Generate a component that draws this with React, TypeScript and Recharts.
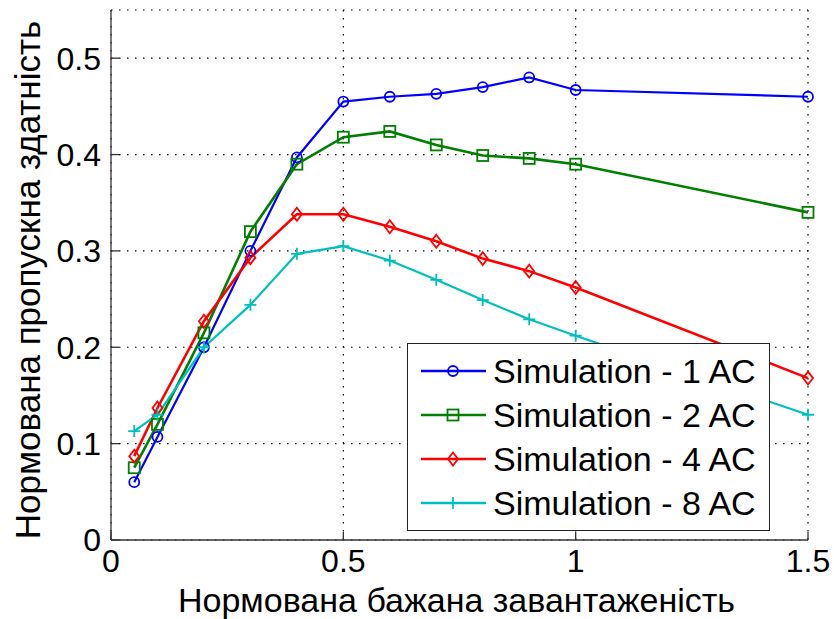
import { CartesianGrid, Legend, Line, LineChart, XAxis, YAxis } from "recharts"

const FONT = "'Liberation Sans', Arial, sans-serif"

// normalised offered load (x)
const loads = [0.05, 0.1, 0.2, 0.3, 0.4, 0.5, 0.6, 0.7, 0.8, 0.9, 1.0, 1.5]

// normalised throughput per number of ACs
const sim1 = [0.06, 0.107, 0.2, 0.3, 0.397, 0.455, 0.46, 0.463, 0.47, 0.48, 0.467, 0.46]
const sim2 = [0.075, 0.12, 0.215, 0.32, 0.39, 0.418, 0.424, 0.41, 0.399, 0.396, 0.39, 0.34]
const sim4 = [0.087, 0.137, 0.227, 0.293, 0.338, 0.338, 0.325, 0.31, 0.292, 0.279, 0.262, 0.168]
const sim8 = [0.113, 0.13, 0.2, 0.244, 0.297, 0.305, 0.29, 0.27, 0.249, 0.229, 0.212, 0.13]

const xTicks = [0, 0.5, 1, 1.5]
const yTicks = [0, 0.1, 0.2, 0.3, 0.4, 0.5]

const xLabel = "Нормована бажана завантаженість"
const yLabel = "Нормована пропускна здатність"

type Shape = "circle" | "square" | "diamond" | "plus"

const series: { key: string; name: string; color: string; shape: Shape; width: number }[] = [
  { key: "s1", name: "Simulation - 1 AC", color: "#0000ff", shape: "circle", width: 2.2 },
  { key: "s2", name: "Simulation - 2 AC", color: "#007f00", shape: "square", width: 2.6 },
  { key: "s4", name: "Simulation - 4 AC", color: "#ff0000", shape: "diamond", width: 2.6 },
  { key: "s8", name: "Simulation - 8 AC", color: "#00bfbf", shape: "plus", width: 2.2 },
]

const data = loads.map((x, i) => ({ x, s1: sim1[i], s2: sim2[i], s4: sim4[i], s8: sim8[i] }))

function Marker({ cx, cy, color, shape }: { cx: number; cy: number; color: string; shape: Shape }) {
  if (shape === "circle") {
    return <circle cx={cx} cy={cy} r={5} fill="none" stroke={color} strokeWidth={1.8} />
  }
  if (shape === "square") {
    return <rect x={cx - 5.5} y={cy - 5.5} width={11} height={11} fill="none" stroke={color} strokeWidth={1.8} />
  }
  if (shape === "diamond") {
    return (
      <path
        d={`M${cx},${cy - 6.5} L${cx + 5},${cy} L${cx},${cy + 6.5} L${cx - 5},${cy} Z`}
        fill="none"
        stroke={color}
        strokeWidth={1.8}
      />
    )
  }
  return <path d={`M${cx - 6},${cy} H${cx + 6} M${cx},${cy - 6} V${cy + 6}`} stroke={color} strokeWidth={1.8} />
}

function makeDot(color: string, shape: Shape) {
  return (props: any) => {
    const { cx, cy, index } = props
    if (cx == null || cy == null) return <g key={index} />
    return <Marker key={index} cx={cx} cy={cy} color={color} shape={shape} />
  }
}

function LegendBox() {
  return (
    <div
      style={{
        border: "1px solid #222",
        background: "#fff",
        boxSizing: "border-box",
        width: 363,
        padding: "5px 0",
        fontFamily: FONT,
        fontSize: 34,
        color: "#000",
      }}
    >
      {series.map((s) => (
        <div key={s.key} style={{ display: "flex", alignItems: "center", height: 44 }}>
          <svg width={85} height={20} style={{ flex: "none" }}>
            <line x1={13} x2={78} y1={10} y2={10} stroke={s.color} strokeWidth={2.5} />
            <Marker cx={45} cy={10} color={s.color} shape={s.shape} />
          </svg>
          <span style={{ whiteSpace: "nowrap", lineHeight: "44px" }}>{s.name}</span>
        </div>
      ))}
    </div>
  )
}

const tickStyle = { fill: "#000", fontSize: 32, fontFamily: FONT }
const frame = { stroke: "#333", strokeWidth: 1.3 }

export default function App() {
  return (
    <div style={{ position: "absolute", left: 0, top: 0, background: "#fff" }}>
      <LineChart width={834} height={619} data={data} margin={{ top: 10, right: 26, left: 0, bottom: 0 }}>
        <CartesianGrid stroke="#000" strokeDasharray="1.5 6.5" strokeWidth={1.2} />
        <XAxis
          dataKey="x"
          type="number"
          domain={[0, 1.5]}
          ticks={xTicks}
          height={79}
          axisLine={frame}
          tickLine={frame}
          tickSize={-8}
          tickMargin={17}
          tick={tickStyle}
          label={{
            content: (p: any) => {
              const vb = p.viewBox
              return (
                <text x={vb.x + vb.width / 2 - 3} y={612} textAnchor="middle" fontSize={34} fontFamily={FONT} fill="#000">
                  {xLabel}
                </text>
              )
            },
          }}
        />
        <XAxis
          xAxisId="top"
          orientation="top"
          dataKey="x"
          type="number"
          domain={[0, 1.5]}
          ticks={xTicks}
          height={0}
          axisLine={frame}
          tickLine={frame}
          tickSize={-8}
          tickFormatter={() => ""}
        />
        <YAxis
          type="number"
          domain={[0, 0.55]}
          ticks={yTicks}
          width={111}
          axisLine={frame}
          tickLine={frame}
          tickSize={-8}
          tickMargin={18}
          tick={tickStyle}
          label={{
            content: (p: any) => {
              const vb = p.viewBox
              const cx = 40
              const cy = vb.y + vb.height / 2 + 5
              return (
                <text
                  x={cx}
                  y={cy}
                  transform={`rotate(-90 ${cx} ${cy})`}
                  textAnchor="middle"
                  fontSize={35}
                  fontFamily={FONT}
                  fill="#000"
                >
                  {yLabel}
                </text>
              )
            },
          }}
        />
        <YAxis
          yAxisId="right"
          orientation="right"
          type="number"
          domain={[0, 0.55]}
          ticks={yTicks}
          width={0}
          axisLine={frame}
          tickLine={frame}
          tickSize={-8}
          tickFormatter={() => ""}
        />
        {series.map((s) => (
          <Line
            key={s.key}
            type="linear"
            dataKey={s.key}
            name={s.name}
            stroke={s.color}
            strokeWidth={s.width}
            dot={makeDot(s.color, s.shape)}
            activeDot={false}
            isAnimationActive={false}
          />
        ))}
        <Legend
          layout="vertical"
          align="center"
          verticalAlign="middle"
          content={() => <LegendBox />}
          wrapperStyle={{ left: 407, top: 343, width: 363, height: 186 }}
        />
      </LineChart>
    </div>
  )
}
